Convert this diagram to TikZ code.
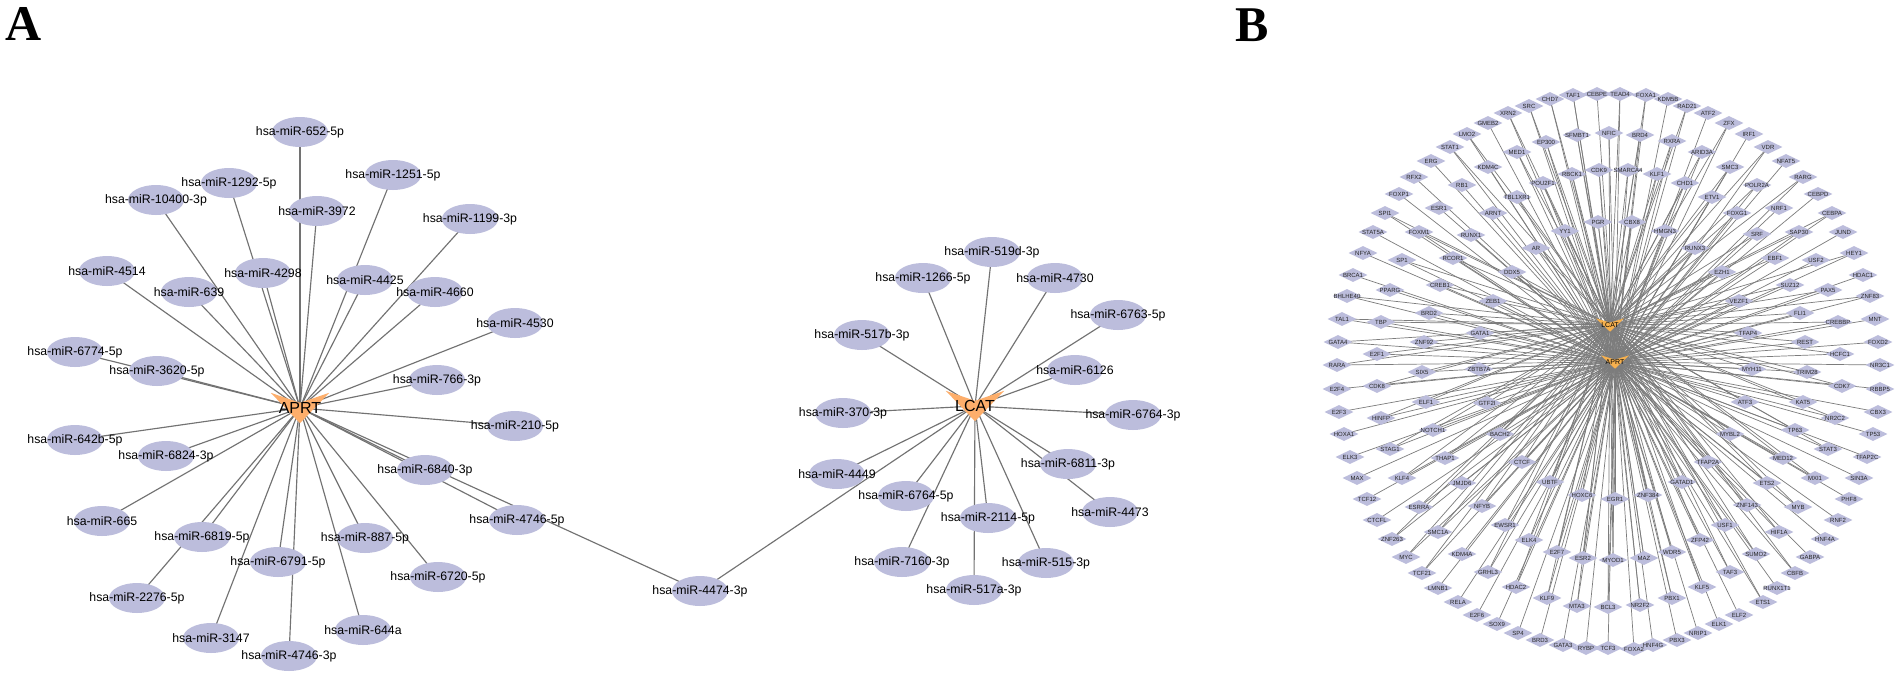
\documentclass[tikz,border=0pt]{standalone}
\usepackage{fontspec}
\setmainfont{Liberation Sans}
\newfontfamily\panelfont{Liberation Serif}
\usetikzlibrary{shapes.geometric}
\definecolor{mirc}{HTML}{BCBDDC}
\definecolor{hubc}{HTML}{FDAE6B}
\definecolor{hubcb}{HTML}{F6B04E}
\definecolor{edgec}{HTML}{727272}
\definecolor{edgecb}{HTML}{7C7C7C}
\pgfdeclarelayer{bg}
\pgfdeclarelayer{edges}
\pgfdeclarelayer{hubs}
\pgfsetlayers{bg,edges,hubs,main}
\tikzset{
  mir/.style={ellipse, fill=mirc, minimum width=56pt, minimum height=30pt, inner sep=0pt, font=\fontsize{12.3pt}{13pt}\selectfont},
  hubA/.style={rectangle, minimum width=58pt, minimum height=30pt, inner sep=0pt, font=\fontsize{16pt}{17pt}\selectfont},
  hubB/.style={rectangle, minimum width=28pt, minimum height=13pt, inner sep=0pt, font=\fontsize{7pt}{8pt}\selectfont},
  tf/.style={diamond, aspect=2, fill=mirc, minimum width=29pt, minimum height=14pt, inner sep=0pt, font=\fontsize{6pt}{6pt}\selectfont, text=black!85},
  edgeA/.style={draw=edgec, line width=1.15pt},
  edgeB/.style={draw=edgecb, line width=0.7pt},
  panel/.style={inner sep=0pt, font=\panelfont\bfseries\fontsize{50pt}{50pt}\selectfont},
}
\newcommand\drawvshape[3]{%
  \begin{pgfonlayer}{hubs}
  \fill[#2] (#1.north west) -- ([yshift=-#3]#1.north) -- (#1.north east) -- (#1.south) -- cycle;
  \end{pgfonlayer}}
\begin{document}
\begin{tikzpicture}[x=1pt,y=-1pt]
\useasboundingbox (0,0) rectangle (1901,673);
\begin{pgfonlayer}{bg}
\fill[white] (0,0) rectangle (1901,673);
\end{pgfonlayer}

% panel labels
\node[panel] (labA) at (24,24) {A};
\node[panel] (labB) at (1252,25) {B};

% ---------------- Panel A ----------------
\node[hubA] (aprt) at (300,408) {APRT};
\drawvshape{aprt}{hubc}{10pt}
\node[hubA] (lcat) at (975,406) {LCAT};
\drawvshape{lcat}{hubc}{10pt}

\foreach \m/\x/\y/\t in {
  m652/300/132/hsa-miR-652-5p, m1292/229/183/hsa-miR-1292-5p, m10400/156/200/hsa-miR-10400-3p,
  m3972/317/211/hsa-miR-3972, m4514/107/271/hsa-miR-4514, m639/189/292/hsa-miR-639,
  m4298/263/273/hsa-miR-4298, m6774/75/352/hsa-miR-6774-5p, m3620/157/371/hsa-miR-3620-5p,
  m642b/75/440/hsa-miR-642b-5p, m6824/166/456/hsa-miR-6824-3p, m665/102/521/hsa-miR-665,
  m6819/202/537/hsa-miR-6819-5p, m6791/278/562/hsa-miR-6791-5p, m2276/137/598/hsa-miR-2276-5p,
  m3147/211/638/hsa-miR-3147, m4746c/289/656/hsa-miR-4746-3p, m1251/393/175/hsa-miR-1251-5p,
  m1199/470/219/hsa-miR-1199-3p, m4425/365/280/hsa-miR-4425, m4660/435/292/hsa-miR-4660,
  m4530/515/323/hsa-miR-4530, m766/437/380/hsa-miR-766-3p, m210/515/426/hsa-miR-210-5p,
  m6840/425/470/hsa-miR-6840-3p, m4746/517/520/hsa-miR-4746-5p, m887/365/538/hsa-miR-887-5p,
  m6720/438/577/hsa-miR-6720-5p, m644a/363/630/hsa-miR-644a}
{
  \node[mir] (\m) at (\x,\y) {\makebox[0pt]{\t}};
  \begin{pgfonlayer}{edges}\draw[edgeA] (aprt.center) -- (\m.center);\end{pgfonlayer}
}
\node[mir] (m4474) at (700,591) {\makebox[0pt]{hsa-miR-4474-3p}};
\begin{pgfonlayer}{edges}
\draw[edgeA] (aprt.center) -- (m4474.center);
\draw[edgeA] (lcat.center) -- (m4474.center);
\end{pgfonlayer}
\foreach \m/\x/\y/\t in {
  m519d/992/252/hsa-miR-519d-3p, m1266/923/278/hsa-miR-1266-5p, m517b/862/335/hsa-miR-517b-3p,
  m370/843/413/hsa-miR-370-3p, m4449/837/474/hsa-miR-4449, m6764b/906/496/hsa-miR-6764-5p,
  m2114/988/518/hsa-miR-2114-5p, m7160/902/562/hsa-miR-7160-3p, m517a/974/590/hsa-miR-517a-3p,
  m4730/1055/278/hsa-miR-4730, m6763/1118/315/hsa-miR-6763-5p, m6126/1075/370/hsa-miR-6126,
  m6764/1133/415/hsa-miR-6764-3p, m6811/1068/464/hsa-miR-6811-3p, m4473/1110/512/hsa-miR-4473,
  m515/1046/563/hsa-miR-515-3p}
{
  \node[mir] (\m) at (\x,\y) {\makebox[0pt]{\t}};
  \begin{pgfonlayer}{edges}\draw[edgeA] (lcat.center) -- (\m.center);\end{pgfonlayer}
}

% ---------------- Panel B ----------------
\node[hubB] (lcatB) at (1610,325) {LCAT};
\drawvshape{lcatB}{hubcb}{4.3pt}
\node[hubB] (aprtB) at (1615,362) {APRT};
\drawvshape{aprtB}{hubcb}{4.3pt}

\foreach \n/\x/\y in {
STAT1/1450/147, ERG/1431/161, RFX2/1414/177, FOXP1/1399/194, ESR1/1439/208, SPI1/1385/213,
STAT5A/1373/232, FOXM1/1419/232, NFYA/1363/253, SP1/1402/260, RCOR1/1453/258, BRCA1/1353/275,
PPARG/1390/290, CREB1/1440/285, BHLHE40/1347/296, BRD2/1429/313, TAL1/1342/319, TBP/1381/322,
CHD7/1550/99, TAF1/1573/95, CEBPE/1597/94, TEAD4/1620/94, FOXA1/1646/95, KDM5B/1668/99,
SRC/1529/106, XRN2/1508/113, GMEB2/1488/123, LMO2/1467/134, EP300/1546/142, SFMBT1/1577/135,
NFIC/1609/133, BRD4/1640/135, RXRA/1672/141, MED1/1517/152, KDM4C/1488/167, RBCK1/1572/174,
CDK9/1599/170, SMARCA4/1628/170, KLF1/1657/174, RB1/1462/185, POU2F1/1543/183, TBL1XR1/1517/197,
ARNT/1493/213, PGR/1598/222, CBX8/1632/222, HMGN3/1665/231, YY1/1565/231, RUNX1/1471/235,
AR/1536/248, DDX5/1512/272, ZEB1/1493/301, GATA1/1480/333}
{
  \node[tf] (t\n) at (\x,\y) {\makebox[0pt]{\n}};
  \begin{pgfonlayer}{edges}\draw[edgeB] (aprtB.center) -- (t\n.center);\end{pgfonlayer}
}
\foreach \n/\x/\y in {
RAD21/1687/106, ATF2/1708/113, ZFX/1729/123, IRF1/1749/134, VDR/1768/147, NFAT5/1786/161,
RARG/1803/177, CEBPD/1818/194, CEBPA/1832/213, JUND/1843/232, HEY1/1854/253, HDAC1/1863/275,
ZNF83/1870/296, MNT/1875/319, ARID3A/1702/152, SMC3/1730/167, CHD1/1685/183, POLR2A/1757/185,
ETV1/1712/197, NRF1/1779/208, FOXG1/1737/213, SRF/1757/234, SAP30/1799/232, RUNX3/1695/248,
EBF1/1775/258, USF2/1816/260, EZH1/1722/272, SUZ12/1790/285, PAX5/1828/290, VEZF1/1739/301,
FLI1/1800/313, CREBBP/1838/322, TFAP4/1748/333}
{
  \node[tf] (t\n) at (\x,\y) {\makebox[0pt]{\n}};
  \begin{pgfonlayer}{edges}\draw[edgeB] (aprtB.center) -- (t\n.center);\end{pgfonlayer}
}
\foreach \n/\x/\y in {
GATA4/1338/342, ZNF92/1424/342, E2F1/1377/354, RARA/1337/365, SIX5/1422/372, E2F4/1337/389,
CDK8/1377/386, ELF1/1426/402, E2F3/1339/412, HINFP/1381/418, HOXA1/1344/434, NOTCH1/1433/430,
ELK3/1350/457, STAG1/1390/449, THAP1/1445/458, MAX/1357/478, KLF4/1402/478, TCF12/1367/499,
ESRRA/1419/507, CTCFL/1377/520, SMC1A/1438/532, ZNF263/1392/539, MYC/1406/557, TCF21/1422/573,
LMNB1/1438/588}
{
  \node[tf] (t\n) at (\x,\y) {\makebox[0pt]{\n}};
  \begin{pgfonlayer}{edges}\draw[edgeB] (aprtB.center) -- (t\n.center);\end{pgfonlayer}
}
\foreach \n/\x/\y in {
ZBTB7A/1479/369, GTF2I/1487/403, BACH2/1500/434, CTCF/1522/462, JMJD6/1462/483, UBTF/1550/482,
HOXC6/1582/495, EGR1/1615/499, ZNF384/1648/495, NFYB/1482/506, EWSR1/1505/525, ELK4/1529/540,
KDM4A/1462/554, E2F7/1557/552, ESR2/1583/558, MYOD1/1613/560, MAZ/1644/558, GRHL3/1488/572,
HDAC2/1516/587, KLF9/1547/598, MTA3/1577/606, BCL3/1608/607, NR2F2/1640/605, RELA/1458/602,
E2F6/1477/615, SOX9/1497/624, SP4/1518/633, BRD3/1540/640, GATA3/1563/645, RYBP/1586/648,
TCF3/1608/648, FOXA2/1634/649, HNF4G/1653/645}
{
  \node[tf] (t\n) at (\x,\y) {\makebox[0pt]{\n}};
  \begin{pgfonlayer}{edges}\draw[edgeB] (aprtB.center) -- (t\n.center);\end{pgfonlayer}
}
\foreach \n/\x/\y in {
REST/1805/342, FOXD2/1878/342, HCFC1/1840/354, NR3C1/1880/365, MYH11/1752/369, TRIM28/1807/372,
CDK7/1842/386, RBBP5/1880/389, ATF3/1745/402, KAT5/1803/402, CBX3/1878/412, NR2C2/1835/418,
TP63/1795/430, TP53/1873/434, MYBL2/1730/434, STAT3/1828/449, TFAP2C/1867/457, MED12/1783/458,
TFAP2A/1708/462, MXI1/1815/478, SIN3A/1859/478, GATAD1/1682/482, ETS2/1767/483, PHF8/1849/499,
MYB/1798/507, ZNF143/1747/505, RNF2/1838/520, USF1/1725/525, HIF1A/1779/532, HNF4A/1825/539,
ZFP42/1700/540, WDR5/1672/552, SUMO2/1756/554, GABPA/1810/557, TAF3/1730/572, CBFB/1795/573,
KLF5/1702/587, RUNX1T1/1777/588, PBX1/1672/598, ETS1/1763/602, ELF2/1739/615, ELK1/1719/624,
NRIP1/1698/633, PBX3/1677/640}
{
  \node[tf] (t\n) at (\x,\y) {\makebox[0pt]{\n}};
  \begin{pgfonlayer}{edges}\draw[edgeB] (aprtB.center) -- (t\n.center);\end{pgfonlayer}
}

\begin{pgfonlayer}{edges}
\foreach \n in {SPI1, FOXM1, SP1, RCOR1, CREB1, BHLHE40, BRD2, TAL1, TBP, STAT1, CHD7, TAF1,
  TEAD4, FOXA1, SRC, XRN2, LMO2, EP300, SFMBT1, NFIC, BRD4, RXRA, MED1, RBCK1, CDK9, SMARCA4,
  KLF1, POU2F1, TBL1XR1, PGR, CBX8, YY1, AR, DDX5, ZEB1, GATA1, RAD21, ZFX, VDR, RARG, CEBPA,
  HEY1, ZNF83, ARID3A, SMC3, CHD1, POLR2A, ETV1, FOXG1, SRF, SAP30, RUNX3, EBF1, EZH1, SUZ12,
  PAX5, VEZF1, FLI1, CREBBP, TFAP4, GATA4, ZNF92, E2F1, RARA, SIX5, CDK8, ELF1, HINFP, NOTCH1,
  STAG1, THAP1, KLF4, ESRRA, SMC1A, ZNF263, MYC, TCF21, ZBTB7A, GTF2I, BACH2, CTCF, UBTF, HOXC6,
  EGR1, ZNF384, NFYB, EWSR1, ELK4, E2F7, ESR2, MYOD1, MAZ, GRHL3, HDAC2, KLF9, MTA3, BCL3, NR2F2,
  REST, HCFC1, MYH11, TRIM28, CDK7, ATF3, KAT5, NR2C2, TP63, MYBL2, STAT3, MED12, TFAP2A, MXI1,
  GATAD1, ETS2, MYB, ZNF143, USF1, HIF1A, ZFP42, WDR5, SUMO2, TAF3, CBFB, KLF5, PBX1, ETS1}
  \draw[edgeB] (lcatB.center) -- (t\n.center);
\end{pgfonlayer}
\end{tikzpicture}
\end{document}
